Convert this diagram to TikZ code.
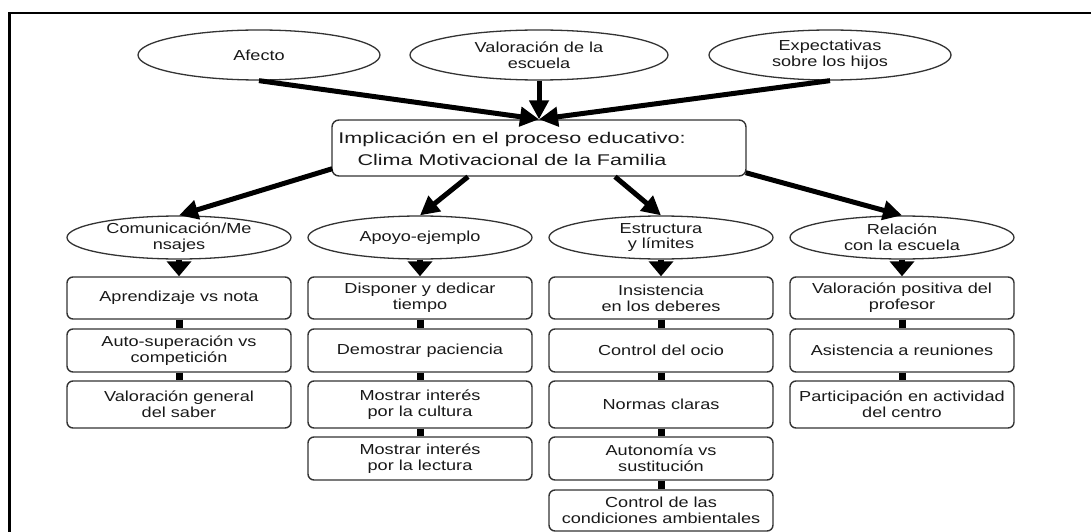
\documentclass[tikz,border=0pt]{standalone}
\usepackage{fontspec}
\setmainfont{Liberation Sans}[FakeStretch=1.25]
\newfontfamily\hubfont{Liberation Sans}[FakeStretch=1.39]
\usetikzlibrary{shapes.geometric,arrows.meta}

\begin{document}
\begin{tikzpicture}[x=1pt,y=-1pt,
  every node/.style={inner sep=0pt, align=center, text=black!90},
  txt/.style={font=\fontsize{14.5}{15.8}\selectfont},
  oval/.style={ellipse, draw=black!80, line width=1.3pt, txt},
  topoval/.style={oval, minimum height=50pt},
  midoval/.style={oval, minimum width=224pt, minimum height=43pt},
  itembox/.style={rectangle, rounded corners=6pt, draw=black!80, line width=1.4pt,
    minimum width=224pt, txt},
  hubbox/.style={rectangle, rounded corners=7pt, draw=black!80, line width=1.4pt,
    minimum width=414pt, minimum height=56pt},
  bigarrow/.style={line width=5pt, -{Triangle[length=19pt,width=19pt]}},
  downarrow/.style={line width=6pt, -{Triangle[length=15pt,width=24pt]}},
  link/.style={line width=7pt},
  frame/.style={line width=2.5pt, black}
]
\useasboundingbox (0,0) rectangle (1091,532);

% page frame: top and left rules
\draw[frame] (9.5,533) -- (9.5,13) -- (1092,13);

% upper influences
\node[topoval, minimum width=242pt] (afecto) at (259,55) {Afecto};
\node[topoval, minimum width=258pt] (valor) at (539,55) {Valoración de la\\escuela};
\node[topoval, minimum width=242pt] (expect) at (830,55) {Expectativas\\sobre los hijos};

% central box
\node[hubbox] (hub) at (539,148) {};
\node[font=\hubfont\fontsize{15.5}{21.5}\selectfont] (hubtext) at (512,149)
  {Implicación en el proceso educativo:\\Clima Motivacional de la Familia};

\draw[bigarrow] (afecto.south) -- (hub.north);
\draw[bigarrow] (valor.south) -- (hub.north);
\draw[bigarrow] (expect.south) -- (hub.north);

% dimensions
\node[midoval] (comm) at (179,237.5) {Comunicación/Me\\nsajes};
\node[midoval] (apoyo) at (420,237.5) {Apoyo-ejemplo};
\node[midoval] (estr) at (661,237.5) {Estructura\\y límites};
\node[midoval] (rel) at (902,237.5) {Relación\\con la escuela};

\draw[bigarrow] ([shift={(1pt,8pt)}]hub.south west) -- (comm.north);
\draw[bigarrow] ([xshift=-71pt]hub.south) -- (apoyo.north);
\draw[bigarrow] ([xshift=76pt]hub.south) -- (estr.north);
\draw[bigarrow] ([shift={(-1pt,4pt)}]hub.south east) -- (rel.north);

% column 1
\node[itembox, minimum height=42pt] (c1a) at (179,298) {Aprendizaje vs nota};
\node[itembox, minimum height=43pt] (c1b) at (179,350.5) {Auto-superación vs\\competición};
\node[itembox, minimum height=47pt] (c1c) at (179,404.5) {Valoración general\\del saber};

% column 2
\node[itembox, minimum height=42pt] (c2a) at (420,298) {Disponer y dedicar\\tiempo};
\node[itembox, minimum height=43pt] (c2b) at (420,350.5) {Demostrar paciencia};
\node[itembox, minimum height=47pt] (c2c) at (420,404.5) {Mostrar interés\\por la cultura};
\node[itembox, minimum height=43pt] (c2d) at (420,458.5) {Mostrar interés\\por la lectura};

% column 3
\node[itembox, minimum height=42pt] (c3a) at (661,298) {Insistencia\\en los deberes};
\node[itembox, minimum height=43pt] (c3b) at (661,350.5) {Control del ocio};
\node[itembox, minimum height=47pt] (c3c) at (661,404.5) {Normas claras};
\node[itembox, minimum height=43pt] (c3d) at (661,458.5) {Autonomía vs\\sustitución};
\node[itembox, minimum height=41pt] (c3e) at (661,510.5) {Control de las\\condiciones ambientales};

% column 4
\node[itembox, minimum height=42pt] (c4a) at (902,298) {Valoración positiva del\\profesor};
\node[itembox, minimum height=43pt] (c4b) at (902,350.5) {Asistencia a reuniones};
\node[itembox, minimum height=47pt] (c4c) at (902,404.5) {Participación en actividad\\del centro};

% arrows from each dimension to its first item
\draw[downarrow] (comm.south) -- (c1a.north);
\draw[downarrow] (apoyo.south) -- (c2a.north);
\draw[downarrow] (estr.south) -- (c3a.north);
\draw[downarrow] (rel.south) -- (c4a.north);

% links between consecutive items
\draw[link] (c1a.south) -- (c1b.north);
\draw[link] (c1b.south) -- (c1c.north);
\draw[link] (c2a.south) -- (c2b.north);
\draw[link] (c2b.south) -- (c2c.north);
\draw[link] (c2c.south) -- (c2d.north);
\draw[link] (c3a.south) -- (c3b.north);
\draw[link] (c3b.south) -- (c3c.north);
\draw[link] (c3c.south) -- (c3d.north);
\draw[link] (c3d.south) -- (c3e.north);
\draw[link] (c4a.south) -- (c4b.north);
\draw[link] (c4b.south) -- (c4c.north);
\end{tikzpicture}
\end{document}
